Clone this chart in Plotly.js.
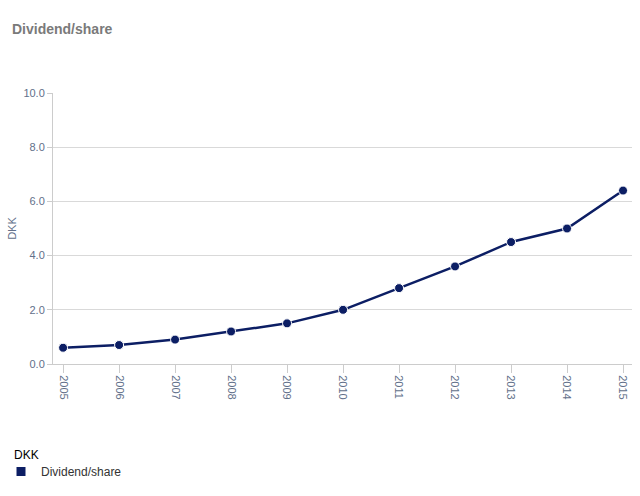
<!DOCTYPE html>
<html>
<head>
<meta charset="utf-8">
<script src="https://cdn.plot.ly/plotly-3.0.1.min.js"></script>
<style>
  html, body { margin: 0; padding: 0; background: #fff; }
  #chart { width: 640px; height: 496px; }
</style>
</head>
<body>
<div id="chart"></div>
<script>
var years = ['2005', '2006', '2007', '2008', '2009', '2010', '2011', '2012', '2013', '2014', '2015'];
var dividend = [0.6, 0.7, 0.9, 1.2, 1.5, 2.0, 2.8, 3.6, 4.5, 5.0, 6.4];
var seriesName = 'Dividend/share';
var unit = 'DKK';

var navy = '#0c1e64';
var tickColor = '#62708a';

/* the line itself */
var line = {
  x: years,
  y: dividend,
  type: 'scatter',
  mode: 'lines+markers',
  name: seriesName,
  showlegend: false,
  line: { color: navy, width: 2.5 },
  marker: { color: navy, size: 9, line: { color: '#fff', width: 1 } },
  hoverinfo: 'x+y'
};

/* legend entry: square symbol */
var legendItem = {
  x: [null],
  y: [null],
  type: 'scatter',
  mode: 'markers',
  name: seriesName,
  marker: { color: navy, size: 9, symbol: 'square' },
  hoverinfo: 'skip'
};

var layout = {
  width: 640,
  height: 496,
  margin: { l: 53, r: 8, t: 93, b: 132, autoexpand: false },
  paper_bgcolor: '#fff',
  plot_bgcolor: '#fff',
  font: { family: 'Liberation Sans, Arial, sans-serif' },
  title: {
    text: '<b>Dividend/share</b>',
    font: { size: 14, color: '#7a7a7a' },
    xref: 'container', x: 12 / 640, xanchor: 'left',
    yref: 'container', y: 1 - 29 / 496, yanchor: 'middle'
  },
  xaxis: {
    type: 'category',
    range: [-0.18, 10.16],
    showgrid: false,
    showline: true,
    linecolor: '#cccccc',
    ticks: 'outside',
    ticklen: 8,
    tickcolor: '#cccccc',
    tickangle: 90,
    tickfont: { size: 11, color: tickColor },
    automargin: false,
    fixedrange: true
  },
  yaxis: {
    range: [0, 10],
    dtick: 2,
    tickformat: '.1f',
    showgrid: true,
    gridcolor: '#d9d9d9',
    zeroline: false,
    showline: true,
    linecolor: '#cccccc',
    ticks: 'outside',
    ticklen: 5,
    tickcolor: '#cccccc',
    tickfont: { size: 11, color: tickColor },
    title: { text: unit, font: { size: 11, color: tickColor }, standoff: 4 },
    automargin: false,
    fixedrange: true
  },
  annotations: [{
    text: unit,
    xref: 'paper', yref: 'paper',
    x: (12 - 53) / 579, xanchor: 'left',
    y: (364 - 455) / 271, yanchor: 'middle',
    showarrow: false,
    font: { size: 12, color: '#000' }
  }],
  showlegend: true,
  legend: {
    font: { size: 12, color: '#333' },
    x: (1 - 53) / 579, xanchor: 'left',
    y: (364 - 457) / 271, yanchor: 'top',
    itemwidth: 30,
    bgcolor: 'rgba(0,0,0,0)'
  }
};

Plotly.newPlot('chart', [line, legendItem], layout, { displayModeBar: false, staticPlot: true });
</script>
</body>
</html>
